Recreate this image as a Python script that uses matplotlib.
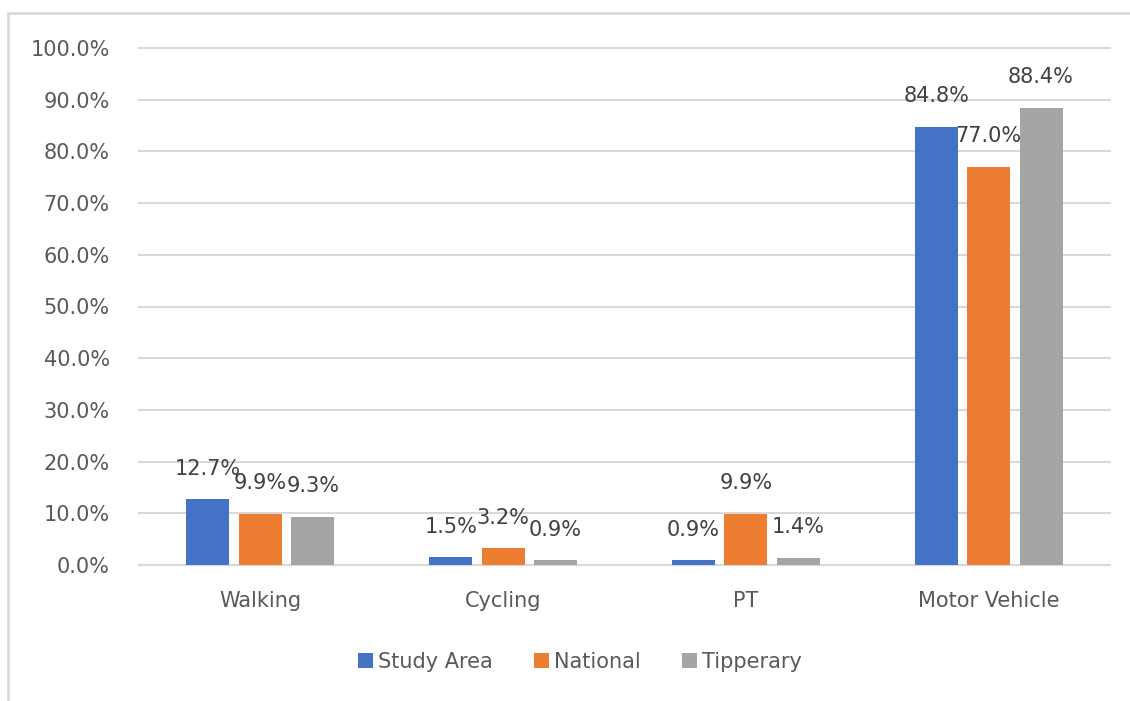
import matplotlib.pyplot as plt
from matplotlib.patches import Rectangle
import numpy as np

categories = ["Walking", "Cycling", "PT", "Motor Vehicle"]
series_names = ["Study Area", "National", "Tipperary"]
study_area = [12.7, 1.5, 0.9, 84.8]
national = [9.9, 3.2, 9.9, 77.0]
tipperary = [9.3, 0.9, 1.4, 88.4]
yticks = [0, 10, 20, 30, 40, 50, 60, 70, 80, 90, 100]

colors = ["#4472C4", "#ED7D31", "#A5A5A5"]
text_grey = "#595959"

plt.rcParams['font.family'] = ['DejaVu Sans']

fig = plt.figure(figsize=(11.3, 7.01), dpi=100)
ax = fig.add_axes([139 / 1130, 1 - 565 / 701, (1110 - 139) / 1130, (565 - 48) / 701])

# outer chart border (only top/left visible in the crop)
fig.patches.append(Rectangle((8 / 1130, -0.05), 1.2, 1 - 13 / 701 + 0.05,
                             transform=fig.transFigure, fill=False,
                             edgecolor="#d9d9d9", linewidth=2))

x = np.arange(len(categories))
width = 0.177
step = 0.216
for i, (vals, name) in enumerate(zip([study_area, national, tipperary], series_names)):
    pos = x + (i - 1) * step
    bars = ax.bar(pos, vals, width, color=colors[i], label=name, zorder=3)
    for b, v in zip(bars, vals):
        ax.annotate(f"{v:.1f}%", (b.get_x() + b.get_width() / 2, v),
                    xytext=(0, 22), textcoords="offset points",
                    ha="center", va="center", fontsize=15, color="#404040", zorder=4)

ax.set_xlim(-0.5, len(categories) - 0.5)
ax.set_ylim(0, 100)
ax.set_yticks(yticks)
ax.set_yticklabels([f"{t:.1f}%" for t in yticks])
ax.set_xticks(x)
ax.set_xticklabels(categories)
ax.tick_params(axis="y", length=0, pad=21, labelsize=15, labelcolor=text_grey)
ax.tick_params(axis="x", length=0, pad=19, labelsize=15, labelcolor=text_grey)
ax.grid(axis="y", color="#d9d9d9", linewidth=1.5, zorder=0)
for line in ax.get_ygridlines():
    line.set_clip_on(False)
for s in ["top", "right", "left"]:
    ax.spines[s].set_visible(False)
ax.spines["bottom"].set_color("#d9d9d9")
ax.spines["bottom"].set_linewidth(1.5)

fig.legend(loc="center", bbox_to_anchor=(580 / 1130, 1 - 662 / 701), ncol=3,
           frameon=False, fontsize=15, handlelength=0.7, handleheight=0.7,
           handletextpad=0.25, columnspacing=2.0, labelcolor=text_grey)

fig.savefig("out.png", dpi=100)
